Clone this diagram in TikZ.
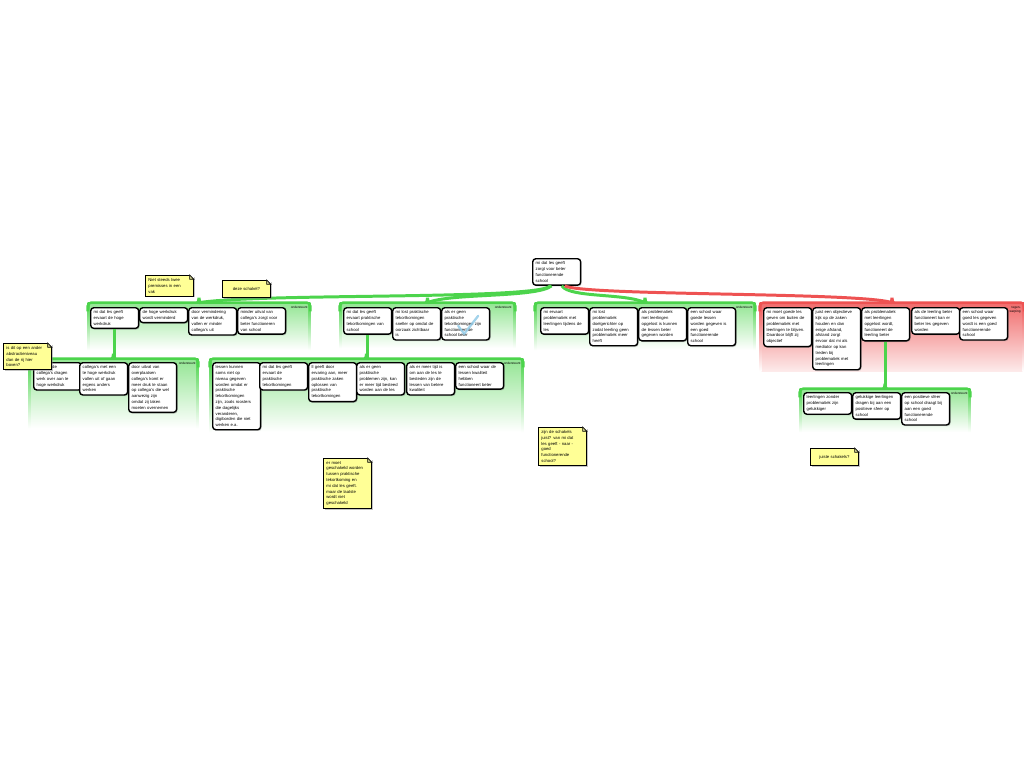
\documentclass[tikz,border=0pt]{standalone}
\usepackage{fontspec}
\setmainfont{Liberation Sans}
\usetikzlibrary{shadows,fit}

\definecolor{bandgreen}{RGB}{76,212,76}
\definecolor{bandred}{RGB}{238,82,82}
\definecolor{noteyellow}{RGB}{255,255,150}
\definecolor{checkblue}{RGB}{140,200,230}

\newcommand{\mapfont}{\fontsize{2.4}{3.3}\selectfont}
\newcommand{\tagfont}{\fontsize{1.8}{2.1}\selectfont}

\tikzset{
  claim/.style={draw=black, line width=0.8pt, rounded corners=1.8pt, fill=white,
    anchor=north west, align=left, text width=0.84cm, inner sep=1.7pt, font=\mapfont,
    drop shadow={shadow xshift=0.6pt, shadow yshift=-0.7pt, opacity=0.35}},
  note/.style={draw=black, line width=0.5pt, fill=noteyellow, anchor=north west,
    align=left, text width=0.84cm, inner sep=1.7pt, font=\mapfont,
    drop shadow={shadow xshift=0.7pt, shadow yshift=-0.7pt, opacity=0.45}},
  gband/.style={fit={#1}, inner sep=0pt, top color=bandgreen!60!white, bottom color=white},
  rband/.style={fit={#1}, inner sep=0pt, top color=bandred!85!white, bottom color=bandred!12!white},
  bandtag/.style={anchor=north east, font=\tagfont, align=right, inner sep=0.6pt},
  gconn/.style={draw=bandgreen, line width=1.7pt},
  rconn/.style={draw=bandred, line width=1.7pt},
}

\begin{document}
\begin{tikzpicture}[x=0.02cm, y=-0.02cm]
  \fill[white] (0,0) rectangle (1024,768);
  \useasboundingbox (0,0) rectangle (1024,768);

  % group bands
  \node[gband={(88,303) (310,350)}] (bandA) {};
  \node[gband={(29,359) (198,428)}] (bandB) {};
  \node[gband={(340,303) (515,348)}] (bandC) {};
  \node[gband={(210,359) (523,432)}] (bandD) {};
  \node[gband={(535,303) (755,350)}] (bandE) {};
  \node[rband={(760,303) (1024,371)}] (bandF) {};
  \node[gband={(800,389) (970,432)}] (bandG) {};

  \foreach \b/\c in {bandA/bandgreen, bandB/bandgreen, bandC/bandgreen, bandD/bandgreen,
                     bandE/bandgreen, bandF/bandred, bandG/bandgreen} {
    \shade[top color=\c, bottom color=white] (\b.north west) rectangle ([xshift=1.1pt]\b.south west);
    \shade[top color=\c, bottom color=white] (\b.north east) rectangle ([xshift=-1.1pt]\b.south east);
    \draw[\c, line width=1.4pt, rounded corners=2pt]
      ([yshift=-5pt]\b.north west) -- (\b.north west) -- (\b.north east) -- ([yshift=-5pt]\b.north east);
    \fill[\c] ([shift={(-9,0)}]\b.north) .. controls ([shift={(-2,0)}]\b.north) .. ([shift={(-1.5,-5)}]\b.north)
      -- ([shift={(1.5,-5)}]\b.north) .. controls ([shift={(2,0)}]\b.north) .. ([shift={(9,0)}]\b.north) -- cycle;
  }

  % band labels
  \node[bandtag] (tagA) at (309,305) {ondersteunt};
  \node[bandtag] (tagB) at (197,361) {ondersteunt};
  \node[bandtag] (tagC) at (513,305) {ondersteunt};
  \node[bandtag] (tagD) at (522,361) {ondersteunt};
  \node[bandtag] (tagE) at (754,305) {ondersteunt};
  \node[bandtag] (tagF) at (1022,305) {tegen-\\werping};
  \node[bandtag] (tagG) at (969,391) {ondersteunt};

  % main claim
  \node[claim] (root) at (532,258) {mi dat les geeft\\zorgt voor beter\\functionerende\\school};

  % reasons
  \node[claim] (A1) at (90,307) {mi dat les geeft\\ervaart de hoge\\werkdruk};
  \node[claim] (A2) at (139,307) {de hoge werkdruk\\wordt verminderd};
  \node[claim] (A3) at (188,307) {door vermindering\\van de werkdruk,\\vallen er minder\\collega's uit};
  \node[claim] (A4) at (237,307) {minder uitval van\\collega's zorgt voor\\beter functioneren\\van school};

  \node[claim] (B1) at (33,362) {uitvallende\\collega's dragen\\werk over aan te\\hoge werkdruk};
  \node[claim] (B2) at (79,362) {collega's met een\\te hoge werkdruk\\vallen uit of gaan\\ergens anders\\werken};
  \node[claim] (B3) at (128,362) {door uitval van\\overplaatsen\\collega's komt er\\meer druk te staan\\op collega's die wel\\aanwezig zijn\\omdat zij taken\\moeten overnemen};

  \node[claim] (C1) at (343,307) {mi dat les geeft\\ervaart praktische\\tekortkomingen van\\school};
  \node[claim] (C2) at (392,307) {mi lost praktische\\tekortkomingen\\sneller op omdat de\\oorzaak zichtbaar\\is};
  \node[claim] (C3) at (441,307) {als er geen\\praktische\\tekortkomingen zijn\\functioneert de\\school beter};

  \node[claim] (D1) at (212,362) {lessen kunnen\\soms niet op\\niveau gegeven\\worden omdat er\\praktische\\tekortkomingen\\zijn, zoals roosters\\die dagelijks\\veranderen,\\digiborden die niet\\werken e.a.};
  \node[claim] (D2) at (259,362) {mi dat les geeft\\ervaart de\\praktische\\tekortkomingen};
  \node[claim] (D3) at (308,362) {ll geeft door\\ervaring aan, meer\\praktische zaken\\oplossen van\\praktische\\tekortkomingen};
  \node[claim] (D4) at (356,362) {als er geen\\praktische\\problemen zijn, kan\\er meer tijd besteed\\worden aan de les};
  \node[claim] (D5) at (406,362) {als er meer tijd is\\om aan de les te\\besteden zijn de\\lessen van betere\\kwaliteit};
  \node[claim] (D6) at (455,362) {een school waar de\\lessen kwaliteit\\hebben\\functioneert beter};

  \node[claim] (E1) at (540,307) {mi ervaart\\problematiek met\\leerlingen tijdens de\\les};
  \node[claim] (E2) at (589,307) {mi lost\\problematiek\\doelgerichter op\\zodat leerling geen\\problematiek meer\\heeft};
  \node[claim] (E3) at (638,307) {als problematiek\\met leerlingen\\opgelost is kunnen\\de lessen beter\\gegeven worden};
  \node[claim] (E4) at (687,307) {een school waar\\goede lessen\\worden gegeven is\\een goed\\functionerende\\school};

  \node[claim] (F1) at (763,307) {mi moet goede les\\geven om buiten de\\problematiek met\\leerlingen te blijven.\\Daardoor blijft zij\\objectief};
  \node[claim] (F2) at (812,307) {juist een objectieve\\kijk op de zaken\\houden en dan\\enige afstand,\\afstand zorgt\\ervoor dat mi als\\mediator op kan\\treden bij\\problematiek met\\leerlingen};
  \node[claim] (F3) at (861,307) {als problematiek\\met leerlingen\\opgelost wordt,\\functioneert de\\leerling beter};
  \node[claim] (F4) at (911,307) {als de leerling beter\\functioneert kan er\\beter les gegeven\\worden};
  \node[claim] (F5) at (959,307) {een school waar\\goed les gegeven\\wordt is een goed\\functionerende\\school};

  \node[claim] (G1) at (803,392) {leerlingen zonder\\problematiek zijn\\gelukkiger};
  \node[claim] (G2) at (852,392) {gelukkige leerlingen\\dragen bij aan een\\positieve sfeer op\\school};
  \node[claim] (G3) at (901,392) {een positieve sfeer\\op school draagt bij\\aan een goed\\functionerende\\school};

  % links
  \draw[gconn] (root.-115) .. controls (538,300) and (260,293) .. (bandA.north);
  \draw[gconn] (root.-110) .. controls (536,298) and (450,293) .. (bandC.north);
  \draw[gconn] (root.-70) .. controls (570,298) and (625,293) .. (bandE.north);
  \draw[rconn] (root.-60) .. controls (585,296) and (860,292) .. (bandF.north);
  \draw[gconn] (A1.south) -- (A1.south |- bandB.north);
  \draw[gconn] (C1.south) -- (C1.south |- bandD.north);
  \draw[gconn] (F3.south) -- (F3.south |- bandG.north);

  % check mark
  \draw[checkblue, line width=1.3pt, opacity=0.8, line cap=round]
    ([shift={(-7.5,2)}]C3.center) -- ([shift={(-1.5,10)}]C3.center) -- ([shift={(12.5,-8)}]C3.center);

  % notes
  \node[note] (N1) at (145,275) {Niet steeds twee\\premisses in een\\vak};
  \node[note, align=center, minimum height=0.34cm] (N2) at (222,280) {deze schakel?};
  \node[note] (N3) at (3,343) {is dit op een ander\\abstractieniveau\\dan de rij hier\\boven?};
  \node[note] (N4) at (323,458) {er moet\\geschakeld worden\\tussen praktische\\tekortkoming en\\mi dat les geeft.\\maar de laatste\\wordt niet\\geschakeld};
  \node[note] (N5) at (538,427) {zijn de schakels\\juist? van mi dat\\les geeft - naar -\\goed\\functionerende\\school?};
  \node[note, align=center, minimum height=0.34cm] (N6) at (810,448) {juiste schakels?};

  \foreach \n in {N1,N2,N3,N4,N5,N6} {
    \fill[white] ([xshift=-2.4pt]\n.north east) -- ([shift={(0.3pt,0.3pt)}]\n.north east) -- ([yshift=-2.4pt]\n.north east) -- cycle;
    \draw[line width=0.4pt, fill=noteyellow!60!gray] ([xshift=-2.4pt]\n.north east) -- ([yshift=-2.4pt]\n.north east)
      -- ([shift={(-2.4pt,-2.4pt)}]\n.north east) -- cycle;
  }
\end{tikzpicture}
\end{document}
